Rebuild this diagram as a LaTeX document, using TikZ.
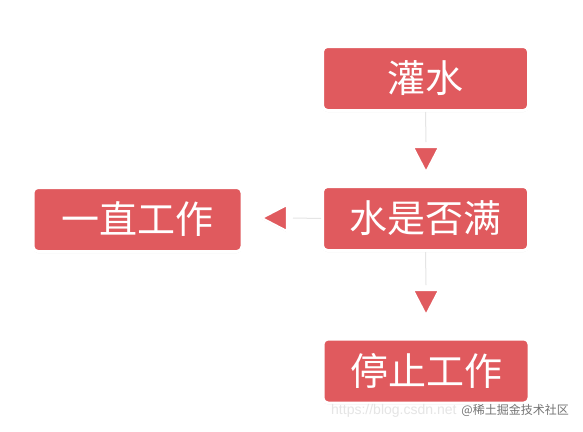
\documentclass[tikz,border=0pt]{standalone}
\usepackage{fontspec}
\setmainfont{Noto Sans CJK SC}
\newfontfamily\urlfont{Liberation Sans}
\usetikzlibrary{shapes.geometric,shadows}
\definecolor{boxred}{HTML}{E05A5E}

\tikzset{
  flowbox/.style={rectangle,rounded corners=5pt,fill=boxred,draw=white,line width=3pt,
    minimum width=206pt,minimum height=64pt,inner sep=0pt,text=white,
    font=\fontsize{38}{40}\selectfont,
    drop shadow={opacity=0.22,shadow xshift=0pt,shadow yshift=-1.5pt}},
  tip/.style={isosceles triangle,isosceles triangle stretches,inner sep=0pt,
    fill=boxred,draw=white,line width=2pt,minimum width=26pt,minimum height=25pt,
    drop shadow={opacity=0.22,shadow xshift=0pt,shadow yshift=-1pt}},
  link/.style={draw=black!10,line width=1pt}
}

\begin{document}
\begin{tikzpicture}[x=1pt,y=-1pt]
\useasboundingbox[fill=white] (0,0) rectangle (583,431);
% connectors first, tips on top
\coordinate (linkA) at (426,142);
\coordinate (linkB) at (293,218);
\coordinate (linkC) at (426,285);
% boxes
\node[flowbox] (water) at (425.5,78.5) {灌水};
\node[flowbox] (full) at (425.5,218.5) {水是否满};
\node[flowbox,minimum width=209pt] (work) at (137.5,219.5) {一直工作};
\node[flowbox] (stop) at (426,371) {停止工作};
\draw[link] (water.south) -- (linkA);
\draw[link] (full.west) -- (linkB);
\draw[link] (full.south) -- (linkC);
% arrow tips
\node[tip,shape border rotate=-90] (tipA) at (426,155) {};
\node[tip,shape border rotate=180] (tipB) at (279,218) {};
\node[tip,shape border rotate=-90] (tipC) at (426,298) {};
% watermark
\node[text=black!10,font=\urlfont\fontsize{14}{15}\selectfont,anchor=west,inner sep=0pt] (url) at (331,411) {https://blog.csdn.net};
\node[text=black!55,font=\fontsize{12}{13}\selectfont,anchor=east,inner sep=0pt] (mark) at (569,410) {@稀土掘金技术社区};
\end{tikzpicture}
\end{document}
